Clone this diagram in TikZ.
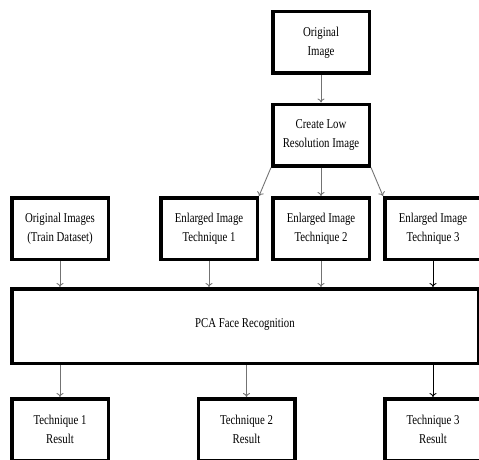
\documentclass[tikz,border=0pt]{standalone}
\usepackage{fontspec}
\newfontfamily\boxfont[FakeStretch=0.8]{Liberation Serif}
\usepackage{tikz}
\usetikzlibrary{arrows.meta}

\begin{document}
\begin{tikzpicture}[x=1pt,y=-1pt,
  blk/.style={draw=black,line width=3.5pt,fill=white,align=center,
    minimum width=96.5pt,minimum height=61.5pt,inner sep=1pt,
    font=\boxfont\fontsize{13.5}{19}\selectfont},
  arr/.style={-{To[length=4pt,width=7pt]},draw=black!55,line width=0.9pt},
  darr/.style={arr,draw=black}]
\useasboundingbox (0,0) rectangle (479,460);
\begin{scope}
\clip (0,0) rectangle (479,460);
\node [blk] (orig) at (321,42.5) {Original\\Image};
\node [blk] (lowres) at (321,135) {Create Low\\Resolution Image};
\node [blk] (train) at (60,228.5) {Original Images\\(Train Dataset)};
\node [blk] (enlA) at (209,228.5) {Enlarged Image\\Technique 1};
\node [blk] (enlB) at (321,228.5) {Enlarged Image\\Technique 2};
\node [blk] (enlC) at (433,228.5) {Enlarged Image\\Technique 3};
\node [blk, minimum width=466.5pt, minimum height=74.5pt] (pca) at (245,326) {\raisebox{5pt}{PCA Face Recognition}};
\node [blk] (resA) at (60,429.5) {Technique 1\\Result};
\node [blk] (resB) at (246.5,429.5) {Technique 2\\Result};
\node [blk] (resC) at (433,429.5) {Technique 3\\Result};
\draw [arr] (orig) -- (lowres);
\draw [arr] (lowres.south west) -- (enlA.north east);
\draw [arr] (lowres) -- (enlB);
\draw [arr] (lowres.south east) -- (enlC.north west);
\draw [arr] (train.south) -- (train.south |- pca.north);
\draw [arr] (enlA.south) -- (enlA.south |- pca.north);
\draw [arr] (enlB.south) -- (enlB.south |- pca.north);
\draw [darr] (enlC.south) -- (enlC.south |- pca.north);
\draw [arr] (pca.south -| resA.north) -- (resA.north);
\draw [arr] (pca.south -| resB.north) -- (resB.north);
\draw [darr] (pca.south -| resC.north) -- (resC.north);
\end{scope}
\end{tikzpicture}
\end{document}
